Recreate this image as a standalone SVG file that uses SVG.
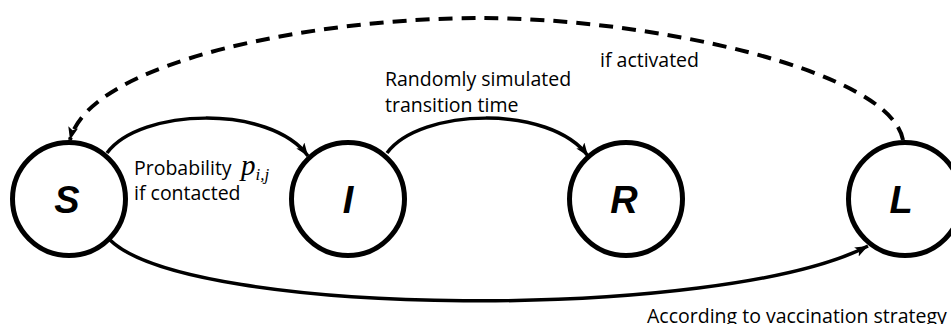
<svg xmlns="http://www.w3.org/2000/svg" width="951" height="324" viewBox="0 0 951 324">
<style>
.node circle{fill:#fff;stroke:#000;stroke-width:5}
.node text{font-family:"Liberation Sans",Arial,sans-serif;font-weight:bold;font-style:italic;font-size:38px;text-anchor:middle;fill:#000}
.edge{fill:none;stroke:#000;stroke-width:3.5}
.dash{stroke-width:4;stroke-dasharray:14 9}
.lbl{font-family:"Open Sans","Liberation Sans",sans-serif;font-size:19.5px;fill:#000}
.math{font-family:"Liberation Serif","Times New Roman",serif;font-style:italic;fill:#000}
</style>
<defs>
<marker id="arr" markerUnits="userSpaceOnUse" markerWidth="16" markerHeight="12" refX="13" refY="5" orient="auto">
<path d="M0,0 L13,5 L0,10 L3,5 z" fill="#000"/>
</marker>
</defs>
<rect width="951" height="324" fill="#fff"/>
<g id="node-S" class="node"><circle cx="69" cy="199" r="56.5"/><text x="67" y="213">S</text></g>
<g id="node-I" class="node"><circle cx="348" cy="199" r="56.5"/><text x="348" y="213">I</text></g>
<g id="node-R" class="node"><circle cx="626" cy="199" r="56.5"/><text x="624" y="213">R</text></g>
<g id="node-L" class="node"><circle cx="905" cy="199" r="56.5"/><text x="901" y="213">L</text></g>
<g id="connectors">
<path class="edge" d="M107,153 C140,108 270,104 308,156" marker-end="url(#arr)"/>
<path class="edge" d="M387,153 C420,108 550,104 588,156" marker-end="url(#arr)"/>
<path class="edge dash" d="M903,140 C890,70 650,18 480,18 C320,18 90,60 70,140" marker-end="url(#arr)"/>
<path class="edge" d="M110,240 C190,318 720,322 868,246" marker-end="url(#arr)"/>
</g>
<g id="labels">
<text class="lbl" x="134" y="175">Probability</text>
<text class="math" x="241" y="175" font-size="29">p<tspan font-size="17" dy="5">i,j</tspan></text>
<text class="lbl" x="134" y="200">if contacted</text>
<text class="lbl" x="385" y="86">Randomly simulated</text>
<text class="lbl" x="385" y="112">transition time</text>
<text class="lbl" x="600" y="67">if activated</text>
<text class="lbl" x="647" y="323">According to vaccination strategy</text>
</g>
</svg>
